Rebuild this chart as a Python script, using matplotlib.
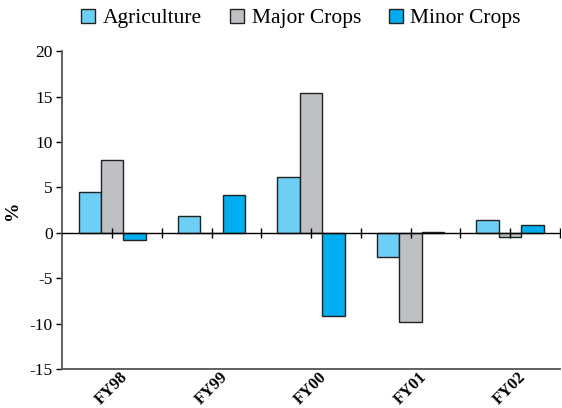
import matplotlib.pyplot as plt
import matplotlib.transforms as mtransforms
import numpy as np

plt.rcParams['font.family'] = ['Liberation Serif', 'DejaVu Serif']
plt.rcParams['axes.unicode_minus'] = False

years = ['FY98', 'FY99', 'FY00', 'FY01', 'FY02']
agriculture = [4.5, 1.9, 6.1, -2.7, 1.4]
major_crops = [8.0, 0.0, 15.4, -9.8, -0.5]
minor_crops = [-0.8, 4.2, -9.2, 0.1, 0.9]

series = [('Agriculture', agriculture, '#6dcff6'),
          ('Major Crops', major_crops, '#bfc0c4'),
          ('Minor Crops', minor_crops, '#00aeef')]

fig = plt.figure(figsize=(5.62, 4.08), dpi=100)
ax = fig.add_axes([0.111, 0.0955, 0.885, 0.779])

x = np.arange(len(years))
w = 0.225
for i, (name, vals, col) in enumerate(series):
    ax.bar(x + (i - 1) * w, vals, w, color=col, edgecolor='#222222',
           linewidth=1.0, label=name, zorder=2)

# zero line with small crossing ticks between and under groups
ax.axhline(0, color='black', linewidth=1.0, zorder=3)
ax.plot(np.arange(-0.5, len(years), 0.5)[1:], np.zeros(2 * len(years)),
        linestyle='none', marker='|', markersize=7, color='black',
        markeredgewidth=1.0, zorder=3)

ax.set_xlim(-0.5, len(years) - 0.5)
ax.set_ylim(-15, 20)
ax.set_yticks(np.arange(-15, 21, 5))
ax.tick_params(axis='y', labelsize=12.5, length=4, direction='out', width=1,
               pad=3)
ax.set_xticks(x)
ax.set_xticklabels(years, rotation=45, ha='right', va='top',
                   rotation_mode='anchor', fontsize=12, fontweight='bold')
ax.tick_params(axis='x', length=0, pad=1)
shift = mtransforms.ScaledTranslation(0.08, 0.01, fig.dpi_scale_trans)
for lbl in ax.get_xticklabels():
    lbl.set_transform(lbl.get_transform() + shift)
ax.set_ylabel('%', fontsize=14, fontweight='bold', labelpad=6)

for side in ['top', 'right']:
    ax.spines[side].set_visible(False)
for side in ['left', 'bottom']:
    ax.spines[side].set_color('#555555')
    ax.spines[side].set_linewidth(1.3)

ax.legend(loc='lower center', bbox_to_anchor=(0.48, 1.045), ncol=3,
          frameon=False, fontsize=15.5, handlelength=0.65, handleheight=0.65,
          handletextpad=0.35, columnspacing=1.3, borderaxespad=0)

fig.savefig('out.png', dpi=100)
